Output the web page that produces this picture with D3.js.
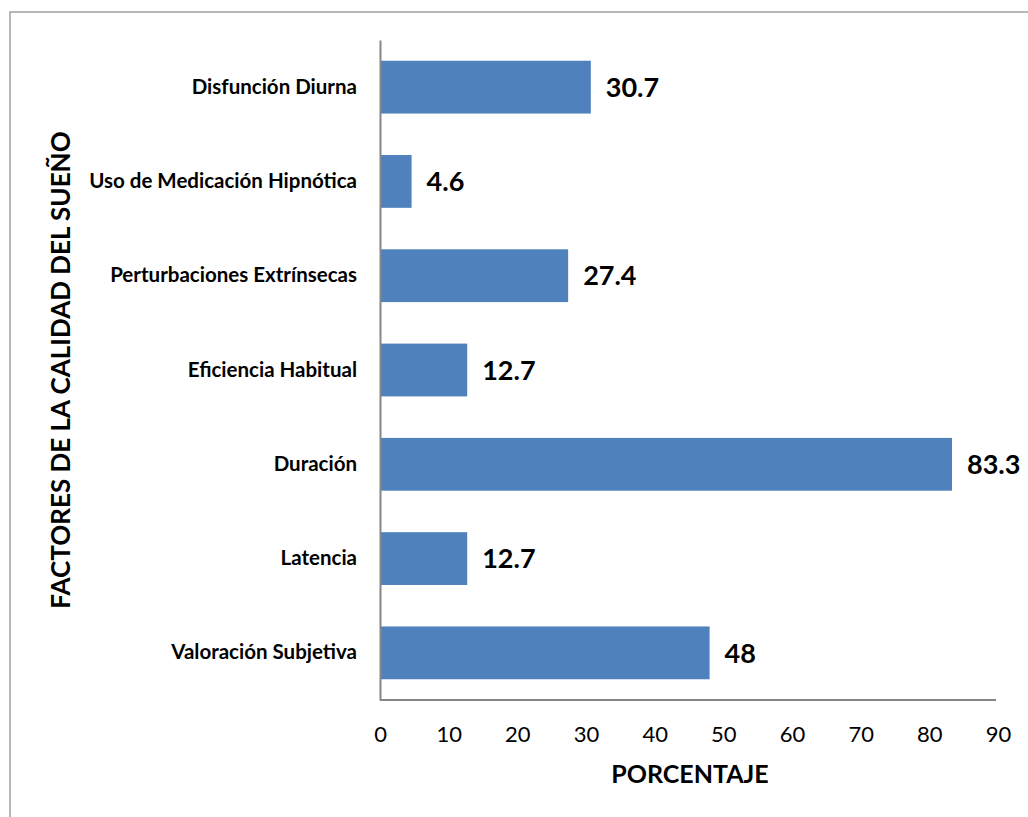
<!DOCTYPE html>
<html>
<head>
<meta charset="utf-8">
<script src="https://cdn.jsdelivr.net/npm/d3@7"></script>
<style>
  body { margin: 0; background: #fff; }
  svg { display: block; font-family: Lato, "Open Sans", sans-serif; }
</style>
</head>
<body>
<div id="chart"></div>
<script>
// factores de la calidad del sueño, top to bottom as in the picture
var categories = ["Disfunción Diurna", "Uso de Medicación Hipnótica", "Perturbaciones Extrínsecas",
  "Eficiencia Habitual", "Duración", "Latencia", "Valoración Subjetiva"];
var values = [30.7, 4.6, 27.4, 12.7, 83.3, 12.7, 48];
var valueLabels = ["30.7", "4.6", "27.4", "12.7", "83.3", "12.7", "48"];
var xTicks = [0, 10, 20, 30, 40, 50, 60, 70, 80, 90];

var width = 1028, height = 817;
var margin = {top: 40, right: 30, bottom: 117, left: 380};

var svg = d3.select("#chart").append("svg")
  .attr("width", width)
  .attr("height", height);

// outer frame
svg.append("rect")
  .attr("x", 10).attr("y", 12)
  .attr("width", width + 20).attr("height", height + 20)
  .attr("fill", "none")
  .attr("stroke", "#a0a0a0")
  .attr("stroke-width", 1.5);

var x = d3.scaleLinear().domain([0, 90]).range([margin.left, 998]);
var y = d3.scaleBand().domain(categories)
  .range([margin.top, height - margin.bottom])
  .paddingInner(0.44).paddingOuter(0.22);

// bars
svg.selectAll(".bar")
  .data(values)
  .enter().append("rect")
  .attr("class", "bar")
  .attr("x", x(0))
  .attr("y", function(d, i){ return y(categories[i]); })
  .attr("width", function(d){ return x(d) - x(0); })
  .attr("height", y.bandwidth())
  .attr("fill", "#4f81bd");

// value labels
svg.selectAll(".val")
  .data(values)
  .enter().append("text")
  .attr("class", "val")
  .attr("x", function(d){ return x(d) + 15; })
  .attr("y", function(d, i){ return y(categories[i]) + y.bandwidth() / 2; })
  .attr("dy", "0.36em")
  .style("font-size", "27px")
  .style("font-weight", "bold")
  .text(function(d, i){ return valueLabels[i]; });

// x axis
var xAxis = svg.append("g")
  .attr("transform", "translate(0," + (height - margin.bottom) + ")")
  .call(d3.axisBottom(x).tickValues(xTicks).tickSize(0).tickPadding(26));
xAxis.select(".domain").attr("stroke", "#868686").attr("stroke-width", 2)
  .attr("d", "M" + x(0) + ",0H996");
xAxis.selectAll("text")
  .style("font-size", "22px")
  .style("font-family", "Lato, 'Open Sans', sans-serif")
  .attr("fill", "#000");

// y axis
var yAxis = svg.append("g")
  .attr("transform", "translate(" + margin.left + ",0)")
  .call(d3.axisLeft(y).tickSize(0).tickPadding(23));
yAxis.select(".domain").attr("stroke", "#868686").attr("stroke-width", 2);
yAxis.selectAll("text")
  .style("font-size", "20.5px")
  .style("font-weight", "bold")
  .style("font-family", "Lato, 'Open Sans', sans-serif")
  .attr("fill", "#000");

// axis titles
svg.append("text")
  .attr("x", 690).attr("y", 783)
  .attr("text-anchor", "middle")
  .style("font-size", "25px")
  .style("font-weight", "bold")
  .text("PORCENTAJE");

svg.append("text")
  .attr("transform", "translate(70,370) rotate(-90)")
  .attr("text-anchor", "middle")
  .style("font-size", "26px")
  .style("font-weight", "bold")
  .text("FACTORES DE LA CALIDAD DEL SUEÑO");
</script>
</body>
</html>
